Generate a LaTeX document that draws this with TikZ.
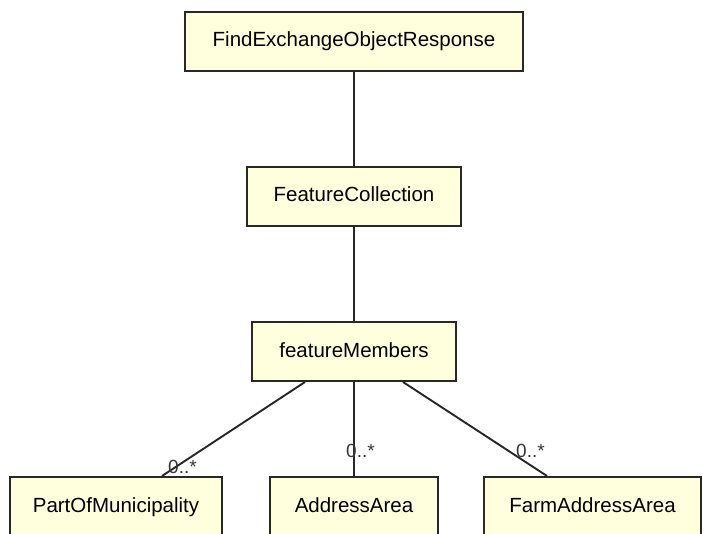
\documentclass[tikz,border=0pt]{standalone}
\usepackage{fontspec}
\setmainfont{Liberation Sans}
\definecolor{boxfill}{RGB}{255,255,221}
\definecolor{boxline}{RGB}{40,40,40}
\definecolor{lbl}{RGB}{55,55,55}
\begin{document}
\begin{tikzpicture}[x=1pt,y=-1pt,
  cls/.style={draw=boxline,fill=boxfill,line width=2pt,minimum height=59pt,
    inner sep=0pt,text height=15pt,text depth=4pt,font=\fontsize{20.5}{24}\selectfont},
  conn/.style={draw=black!85,line width=1.9pt},
  mult/.style={inner sep=0pt,anchor=south west,text=lbl,font=\fontsize{19}{22}\selectfont}]
\useasboundingbox (0,0) rectangle (703,534);
\node[cls,minimum width=338pt] (resp) at (354,41.5) {FindExchangeObjectResponse};
\node[cls,minimum width=214pt] (fc) at (354,196.5) {FeatureCollection};
\node[cls,minimum width=204pt] (fm) at (354,351.5) {featureMembers};
\node[cls,minimum width=212pt] (pom) at (116,506.5) {PartOfMunicipality};
\node[cls,minimum width=168pt] (aa) at (354,506.5) {AddressArea};
\node[cls,minimum width=217pt] (faa) at (592.5,506.5) {FarmAddressArea};
\draw[conn] (resp.south) -- (fc.north);
\draw[conn] (fc.south) -- (fm.north);
\draw[conn] ([xshift=-49pt]fm.south) -- ([xshift=46pt]pom.north);
\draw[conn] (fm.south) -- (aa.north);
\draw[conn] ([xshift=49pt]fm.south) -- ([xshift=-45.5pt]faa.north);
\node[mult] (m1) at (168,474) {0..*};
\node[mult] (m2) at (346,458) {0..*};
\node[mult] (m3) at (516,458) {0..*};
\end{tikzpicture}
\end{document}
